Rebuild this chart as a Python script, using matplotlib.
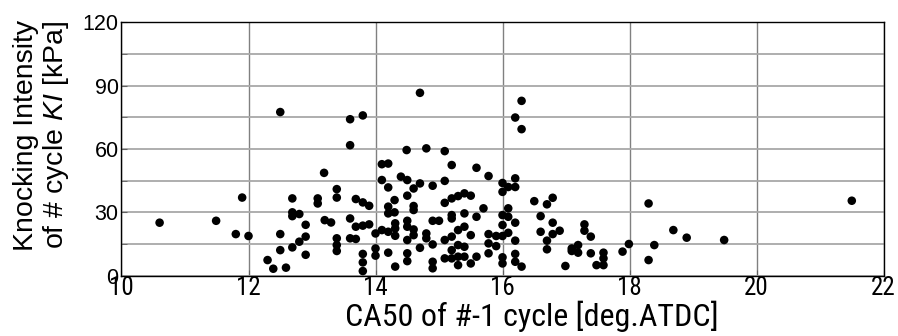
import matplotlib
matplotlib.use("Agg")
import matplotlib.pyplot as plt
from matplotlib import font_manager as fm
from matplotlib.font_manager import FontProperties

# ---- data ----
ca50 = [10.60, 11.49, 11.80, 11.90, 12.00,
        12.50, 12.69, 12.69, 12.69, 12.80, 12.90, 12.50, 12.90, 12.80, 12.69, 12.50, 12.90, 12.30, 12.39, 12.59,
        13.09, 13.09, 13.19,
        13.20, 13.30, 13.39, 13.39, 13.39, 13.39, 13.39, 13.60, 13.80, 13.60, 13.60, 13.69, 13.80, 13.90,
        13.69, 13.80, 13.90, 13.60, 13.69, 13.80, 13.80, 13.80, 14.00, 14.00, 14.00, 14.10, 14.20, 14.10,
        14.20, 14.30, 14.20, 14.20, 14.30, 14.10, 14.20, 14.31, 14.31, 14.31, 14.20, 14.31, 14.40,
        14.70, 14.49, 14.80, 15.09, 15.20, 15.59, 15.78, 14.50, 14.60, 14.70, 14.90, 15.09, 14.50, 14.60,
        14.60, 15.09, 15.20, 15.30, 15.40, 15.50, 15.70, 15.59, 15.40, 15.20, 15.20, 14.90, 15.00, 14.50,
        14.50, 14.60, 14.60, 14.50, 14.80, 14.80, 14.90, 14.70, 15.09, 15.20, 15.30, 15.40, 15.50, 15.20,
        15.30, 15.40, 15.09, 15.20, 15.30, 15.40, 15.59, 15.50, 15.30, 14.90, 14.90, 14.50, 14.50, 15.78,
        15.78, 15.78,
        16.30, 16.20, 16.30, 16.00, 16.09, 16.20, 16.20, 16.00, 16.09, 16.00, 16.09, 16.20, 16.00, 16.09,
        16.00, 15.90, 15.90, 16.20, 16.00, 16.00, 16.20, 16.20, 16.30, 16.50, 16.70, 16.79, 16.60, 16.79,
        16.90, 16.79, 16.60, 16.70, 16.70, 16.99,
        17.29, 17.29, 17.39, 17.09, 17.19, 17.09, 17.19, 17.39, 17.48, 17.59, 17.59, 17.59, 17.89, 17.99,
        18.30, 18.30, 18.39, 18.69, 18.90, 19.49, 21.50]
ki = [25.1, 26.0, 19.7, 37.0, 18.8,
      77.5, 36.6, 30.0, 28.2, 29.2, 24.1, 19.7, 18.5, 16.1, 13.4, 12.1, 9.9, 7.4, 3.3, 3.8,
      36.6, 34.2, 48.7,
      26.3, 25.2, 41.0, 37.0, 17.7, 14.5, 11.7, 74.1, 75.9, 61.8, 27.1, 36.3, 34.7, 33.1,
      23.2, 23.7, 24.3, 17.7, 17.4, 10.3, 6.3, 2.2, 20.0, 12.9, 9.5, 52.8, 53.1, 45.3,
      41.8, 35.8, 32.7, 29.5, 30.0, 21.6, 20.8, 24.8, 22.4, 18.9, 10.9, 4.3, 46.9,
      86.6, 59.5, 60.3, 59.0, 52.4, 51.1, 47.2, 45.3, 41.3, 43.7, 42.6, 44.9, 37.9, 33.0,
      31.1, 34.5, 36.6, 37.7, 39.0, 37.9, 31.9, 27.9, 29.5, 28.7, 27.1, 26.0, 26.0, 26.0,
      23.2, 21.9, 19.2, 16.9, 20.0, 17.7, 14.8, 13.2, 16.9, 18.5, 21.6, 23.2, 19.2, 12.1,
      14.5, 13.7, 8.2, 8.2, 9.0, 9.0, 9.0, 5.8, 5.0, 6.6, 3.5, 10.6, 6.9, 19.7,
      15.3, 10.6,
      82.8, 74.9, 69.4, 43.9, 42.0, 42.0, 46.1, 39.7, 31.9, 28.7, 27.9, 25.1, 24.0, 20.3,
      18.8, 18.8, 14.0, 16.6, 8.7, 5.8, 10.3, 6.6, 4.3, 35.3, 33.8, 36.9, 28.2, 25.1,
      21.3, 19.7, 20.8, 16.6, 12.5, 4.6,
      24.3, 21.3, 18.5, 12.9, 14.5, 11.7, 10.9, 10.6, 5.0, 5.0, 8.2, 10.9, 11.4, 15.0,
      34.2, 7.4, 14.5, 21.6, 18.0, 16.9, 35.5]

x_ticks = [10, 12, 14, 16, 18, 20, 22]
y_ticks = [0, 30, 60, 90, 120]
y_minor = [15, 45, 75, 105]

# ---- fonts ----
base = "Liberation Sans"
plt.rcParams['font.family'] = [base, 'DejaVu Sans']
plt.rcParams['mathtext.fontset'] = 'custom'
plt.rcParams['mathtext.it'] = base + ':italic'
plt.rcParams['mathtext.rm'] = base


def find_narrow():
    prefs = ['Liberation Sans Narrow', 'Arial Narrow', 'Roboto Condensed',
             'Open Sans Condensed', 'Noto Sans', 'Open Sans', 'Roboto', 'DejaVu Sans']
    cands = []
    for f in fm.fontManager.ttflist:
        nm = f.name
        path = f.fname.lower()
        if f.style != 'normal':
            continue
        if 'narrow' not in path and 'condensed' not in path and 'narrow' not in nm.lower() \
                and 'condensed' not in nm.lower():
            continue
        w = f.weight if isinstance(f.weight, int) else (400 if f.weight in ('normal', 'regular') else 700)
        if w > 500 or w < 350:
            continue
        rank = len(prefs)
        for i, p in enumerate(prefs):
            if nm.lower().startswith(p.lower()):
                rank = i
                break
        cands.append((rank, f.fname))
    if cands:
        cands.sort()
        return FontProperties(fname=cands[0][1])
    return FontProperties(family=base)


narrow_fp = find_narrow()

fig = plt.figure(figsize=(8.98, 3.36), dpi=100)
ax = fig.add_axes([0.1353, 0.1795, 0.8486, 0.7541])

ax.set_xlim(10, 22)
ax.set_ylim(0, 120)
ax.set_xticks(x_ticks)
ax.set_yticks(y_ticks)
ax.set_yticks(y_minor, minor=True)

ax.grid(True, which='major', axis='x', color='#808080', linewidth=1.0)
ax.grid(True, which='both', axis='y', color='#a8a8a8', linewidth=1.3)
ax.set_axisbelow(True)

ax.scatter(ca50, ki, s=38, color='black', edgecolors='none', zorder=3, clip_on=False)

for sp in ax.spines.values():
    sp.set_color('black')
    sp.set_linewidth(1.0)

ax.tick_params(axis='both', which='both', direction='in', length=4, color='#606060')
ax.tick_params(axis='y', which='major', labelsize=15.5, pad=2)
ax.tick_params(axis='x', which='major', pad=0)

xfp = narrow_fp.copy()
xfp.set_size(18)
for lab in ax.get_xticklabels():
    lab.set_fontproperties(xfp)
for lab in ax.get_yticklabels():
    lab.set_family(base)

lfp = narrow_fp.copy()
lfp.set_size(23)
ax.set_xlabel('CA50 of #-1 cycle [deg.ATDC]', fontproperties=lfp)
ax.xaxis.set_label_coords(0.539, -0.098)
ax.set_ylabel('Knocking Intensity\nof # cycle $KI$ [kPa]', fontsize=20.5, family=base,
              linespacing=1.1)
ax.yaxis.set_label_coords(-0.066, 0.555)

fig.savefig('out.png', dpi=100)
